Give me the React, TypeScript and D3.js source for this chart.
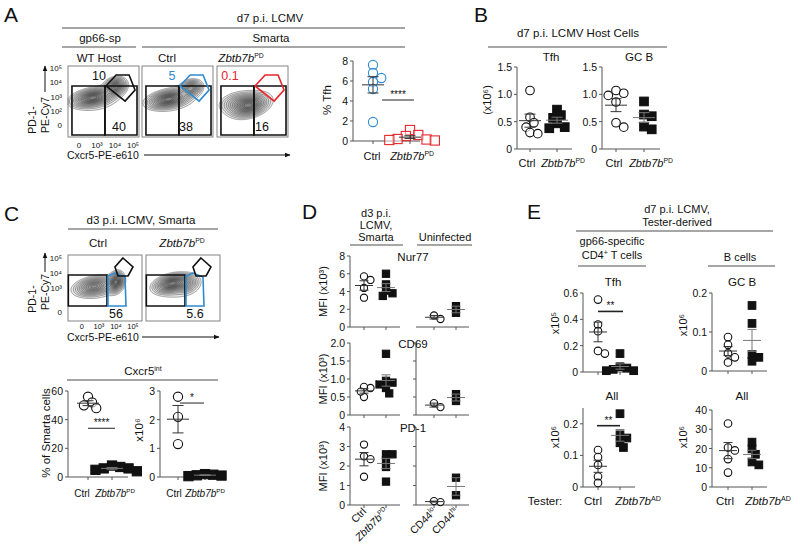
import React from 'react';
import * as d3 from 'd3';

const FONT = 'Liberation Sans, Arial, Helvetica, sans-serif';
const BLUE = '#2f8ad0';
const RED = '#e8262c';

// ---- A: % Tfh of Smarta
const aTfhCtrl = [7.6, 6.3, 6.8, 5.9, 5.2, 1.9];
const aTfhKO = [1.1, 0.6, 0.5, 0.2, 0.1, 0.15, 0.05];
// ---- B: host cells (x10^6)
const bTfhCtrl = [1.07, 0.58, 0.4, 0.48, 0.3, 0.28];
const bTfhKO = [0.72, 0.62, 0.57, 0.47, 0.4, 0.38];
const bGcbCtrl = [1.07, 1.02, 0.98, 0.86, 0.48, 0.4];
const bGcbKO = [0.87, 0.63, 0.6, 0.41, 0.36];
// ---- C: Cxcr5 int
const cPctCtrl = [56, 52, 48, 50];
const cPctKO = [8, 6, 5, 4, 6, 7];
const cNumCtrl = [2.8, 2.1, 1.15];
const cNumKO = [0.08, 0.05, 0.1, 0.03, 0.06];
// ---- D: MFI
const dNurCtrl = [5.7, 5.3, 4.4, 3.3];
const dNurKO = [6.0, 4.8, 4.1, 3.8, 3.5];
const dNurLo = [0.9, 1.3];
const dNurHi = [1.6, 2.35];
const dCd69Ctrl = [0.75, 0.78, 0.5, 0.65];
const dCd69KO = [1.7, 0.95, 0.9, 0.85, 0.75, 0.6];
const dCd69Lo = [0.22, 0.33];
const dCd69Hi = [0.39, 0.58];
const dPd1Ctrl = [3.1, 2.5, 2.35, 1.45];
const dPd1KO = [2.6, 2.6, 2.3, 1.95, 1.2];
const dPd1Lo = [0.15, 0.2];
const dPd1Hi = [1.4, 0.5];
// ---- E: tester-derived
const eTfhCtrl = [0.55, 0.36, 0.31, 0.14, 0.16];
const eTfhKO = [0.14, 0.04, 0.02, 0.01, 0.01, 0.03];
const eGcbCtrl = [0.087, 0.067, 0.045, 0.035, 0.022];
const eGcbKO = [0.168, 0.122, 0.042, 0.035, 0.025];
const eAllTCtrl = [0.117, 0.095, 0.07, 0.033, 0.013];
const eAllTKO = [0.232, 0.165, 0.155, 0.14, 0.125];
const eAllBCtrl = [33, 20.5, 19, 14.5, 7.5];
const eAllBKO = [23.3, 19.8, 17, 13, 11.5];

// flow populations (log-decade units): x, y, sx, sy, rho, weight
type Comp = [number, number, number, number, number, number];
const flowAWT: Comp[] = [[2.75, 2.95, 0.55, 0.3, 0.35, 1], [4.0, 3.7, 0.3, 0.3, 0.2, 0.9], [3.1, 2.8, 0.8, 0.55, 0.3, 0.08]];
const flowACtrl: Comp[] = [[2.85, 2.85, 0.55, 0.3, 0.35, 1], [4.1, 3.6, 0.3, 0.28, 0.2, 0.7], [3.2, 2.8, 0.8, 0.55, 0.3, 0.08]];
const flowAKO: Comp[] = [[3.2, 2.4, 0.5, 0.38, 0.35, 1], [2.6, 2.6, 0.5, 0.35, 0.2, 0.4], [3.1, 2.6, 0.8, 0.55, 0.3, 0.08]];
const flowCCtrl: Comp[] = [[2.7, 3.1, 0.55, 0.3, 0.3, 0.8], [4.0, 3.4, 0.22, 0.32, 0.2, 1.1], [3.1, 3.0, 0.8, 0.5, 0.2, 0.08]];
const flowCKO: Comp[] = [[2.7, 3.3, 0.5, 0.3, 0.35, 1], [3.6, 3.3, 0.35, 0.3, 0.2, 0.35], [3.1, 3.0, 0.8, 0.5, 0.2, 0.08]];

// gates (same units)
const gateALeft: [number, number][] = [[1.61, 0.38], [3.44, 0.38], [3.44, 3.76], [1.61, 3.76]];
const gateARight: [number, number][] = [[3.44, 0.38], [5.22, 0.38], [5.22, 3.76], [3.44, 3.76]];
const gateAPent: [number, number][] = [[3.5, 3.76], [4.06, 4.52], [4.78, 4.52], [5.11, 3.48], [4.56, 2.72]];
const gateCLeft: [number, number][] = [[1.2, 1.8], [3.47, 1.8], [3.47, 3.87], [1.2, 3.87]];
const gateCInt: [number, number][] = [[3.53, 3.8], [3.94, 4.0], [4.53, 3.73], [4.59, 1.8], [3.53, 1.8]];
const gateCPent: [number, number][] = [[4.41, 5.0], [5.0, 4.4], [4.71, 3.8], [4.12, 3.8], [3.94, 4.4]];

const flowXTicks = [2, 3, 4, 5];
const flowXLabels = ['0', '10³', '10⁴', '10⁵'];

const T = ({ x, y, children, anchor = 'middle', size = 11, rotate = 0, italic = false, fill = '#111', central = false }: any) => (
  <text x={x} y={y} textAnchor={anchor} fontSize={size} fontStyle={italic ? 'italic' : 'normal'} fill={fill}
    dominantBaseline={central ? 'central' : 'auto'}
    transform={rotate ? `rotate(${rotate},${x},${y})` : undefined}>{children}</text>
);

const Zb = ({ sup = 'PD', size = 11 }: any) => (
  <>
    <tspan fontStyle="italic">Zbtb7b</tspan>
    <tspan fontSize={size * 0.62} dy={-size * 0.38}>{sup}</tspan>
  </>
);

function FlowPlot({ left, top, w, h, xDom, yDom, comps, gates }: any) {
  const x = d3.scaleLinear().domain(xDom).range([left, left + w]);
  const y = d3.scaleLinear().domain(yDom).range([top + h, top]);
  const vals = new Array(w * h);
  for (let j = 0; j < h; j++) {
    for (let i = 0; i < w; i++) {
      const u = x.invert(left + i + 0.5);
      const v = y.invert(top + j + 0.5);
      let s = 0;
      for (const [cx, cy, sx, sy, rho, wt] of comps as Comp[]) {
        const dx = (u - cx) / sx, dy = (v - cy) / sy;
        s += wt * Math.exp(-0.5 / (1 - rho * rho) * (dx * dx - 2 * rho * dx * dy + dy * dy));
      }
      vals[j * w + i] = s;
    }
  }
  const mx = d3.max(vals) as number;
  const levels = [0.04, 0.07, 0.11, 0.16, 0.22, 0.29, 0.37, 0.45, 0.53, 0.61, 0.69, 0.77, 0.85, 0.92].map(k => k * mx);
  const cs = d3.contours().size([w, h]).thresholds(levels)(vals);
  const gp = d3.geoPath();
  const line = d3.line();
  return (
    <g>
      <g transform={`translate(${left},${top})`}>
        {cs.map((c, k) => (
          <path key={k} d={gp(c as any) || ''} fill="#000" fillOpacity={k === 0 ? 0.08 : 0.045}
            stroke="#222" strokeWidth={0.5} strokeOpacity={0.8} />
        ))}
      </g>
      <rect x={left} y={top} width={w} height={h} fill="none" stroke="#777" strokeWidth={0.9} />
      {gates.map((g: any, k: number) => (
        <path key={k} d={line(g.pts.map((p: number[]) => [x(p[0]), y(p[1])]) as any) + 'Z'} fill="none" stroke={g.color} strokeWidth={1.6} strokeLinejoin="miter" />
      ))}
    </g>
  );
}

function dodge(vals: number[], y: (v: number) => number, r: number) {
  const order = d3.range(vals.length).sort((a, b) => vals[b] - vals[a]);
  const placed: { x: number; y: number }[] = [];
  const offs = new Array(vals.length).fill(0);
  for (const i of order) {
    const py = y(vals[i]);
    for (let k = 0; k < 30; k++) {
      const cand = k === 0 ? 0 : (k % 2 ? 1 : -1) * Math.ceil(k / 2) * r * 0.9;
      if (placed.every(p => Math.hypot(p.x - cand, p.y - py) >= r * 1.5)) {
        offs[i] = cand;
        placed.push({ x: cand, y: py });
        break;
      }
    }
  }
  return offs;
}

type Grp = { vals: number[]; shape: 'o' | 's'; color: string };

function Scatter({ ax, axEnd, top, bottom, domain, ticks, fmt, cats, groups, r, tickLabels = true, yAxis = true, barW = 11, sig }: any) {
  const y = d3.scaleLinear().domain(domain).range([bottom, top]);
  const xc = d3.scalePoint<number>().domain(d3.range(groups.length)).range(cats);
  const f = fmt || ((d: number) => (d === 0 ? '0' : d3.format('~g')(d)));
  return (
    <g>
      {yAxis && <line x1={ax} x2={ax} y1={bottom} y2={top} stroke="#555" strokeWidth={1} />}
      {yAxis && ticks.map((t: number) => (
        <g key={t}>
          <line x1={ax - 3} x2={ax} y1={y(t)} y2={y(t)} stroke="#555" />
          {tickLabels && <T x={ax - 5} y={y(t)} anchor="end" size={10.5} central>{f(t)}</T>}
        </g>
      ))}
      <line x1={ax} x2={axEnd} y1={bottom} y2={bottom} stroke="#555" strokeWidth={1} />
      {groups.map((_: Grp, i: number) => (
        <line key={i} x1={xc(i)} x2={xc(i)} y1={bottom} y2={bottom + 3} stroke="#555" />
      ))}
      {groups.map((g: Grp, i: number) => {
        const offs = dodge(g.vals, y, r);
        const cx = xc(i) as number;
        const m = d3.mean(g.vals) as number;
        const sem = (d3.deviation(g.vals) || 0) / Math.sqrt(g.vals.length);
        return (
          <g key={i}>
            {g.vals.map((v, k) => g.shape === 'o'
              ? <circle key={k} cx={cx + offs[k]} cy={y(v)} r={r} fill="white" fillOpacity={0.6} stroke={g.color} strokeWidth={1.1} />
              : <rect key={k} x={cx + offs[k] - r} y={y(v) - r} width={2 * r} height={2 * r}
                fill={g.color === RED ? 'white' : g.color} fillOpacity={g.color === RED ? 0.5 : 1} stroke={g.color} strokeWidth={1.1} />)}
            <g stroke={g.color === '#111' && g.shape === 's' ? '#777' : '#333'} strokeWidth={1}>
              <line x1={cx - barW} x2={cx + barW} y1={y(m)} y2={y(m)} />
              <line x1={cx} x2={cx} y1={y(m - sem)} y2={y(m + sem)} />
              <line x1={cx - barW / 2} x2={cx + barW / 2} y1={y(m - sem)} y2={y(m - sem)} />
              <line x1={cx - barW / 2} x2={cx + barW / 2} y1={y(m + sem)} y2={y(m + sem)} />
            </g>
          </g>
        );
      })}
      {sig && (
        <g>
          <line x1={sig.x1} x2={sig.x2} y1={y(sig.v)} y2={y(sig.v)} stroke="#222" strokeWidth={sig.bold ? 1.6 : 1} />
          <T x={(sig.x1 + sig.x2) / 2} y={y(sig.v) - 2} size={10}>{sig.text}</T>
        </g>
      )}
    </g>
  );
}

const fix1 = (d: number) => (d === 0 ? '0' : d.toFixed(1));

const Rule = ({ x1, x2, y }: any) => <line x1={x1} x2={x2} y1={y} y2={y} stroke="#888" strokeWidth={1.3} />;

export default function App() {
  const ctrlO = (vals: number[]): Grp => ({ vals, shape: 'o', color: '#111' });
  const koS = (vals: number[]): Grp => ({ vals, shape: 's', color: '#111' });
  const aX: [number, number] = [1.39, 5.33];
  const aY: [number, number] = [0.24, 5.14];
  const cX: [number, number] = [1.18, 5.53];
  const cY: [number, number] = [0.8, 5.2];
  const axA = d3.scaleLinear().domain(aX).range([68, 139]);
  const ayA = d3.scaleLinear().domain(aY).range([137, 66]);
  const axC = d3.scaleLinear().domain(cX).range([68, 142]);
  const ayC = d3.scaleLinear().domain(cY).range([321, 255]);

  return (
    <div style={{ position: 'absolute', left: 0, top: 0 }}>
      <svg width={800} height={553} style={{ display: 'block', fontFamily: FONT }} fontFamily={FONT}>
        <defs>
          <marker id="arr" viewBox="0 0 10 10" refX={9} refY={5} markerWidth={6} markerHeight={6} orient="auto">
            <path d="M0,1 L10,5 L0,9 Z" fill="#111" />
          </marker>
        </defs>
        <rect width={800} height={553} fill="white" />

        {/* ================= A ================= */}
        <T x={4} y={22} anchor="start" size={21}>A</T>
        <T x={270} y={22} size={11.5}>d7 p.i. LCMV</T>
        <Rule x1={62} x2={405} y={28} />
        <T x={100} y={42} size={11.5}>gp66-sp</T>
        <Rule x1={62} x2={136} y={47} />
        <T x={271} y={42} size={11.5}>Smarta</T>
        <Rule x1={142} x2={405} y={47} />
        <T x={99} y={62} size={11.5}>WT Host</T>
        <T x={167} y={62} size={11.5}>Ctrl</T>
        <T x={241} y={62} size={11.5}><Zb /></T>

        {[68, 142, 217].map((left, k) => (
          <FlowPlot key={k} left={left} top={66} w={71} h={71} xDom={aX} yDom={aY}
            comps={[flowAWT, flowACtrl, flowAKO][k]}
            gates={[
              { pts: gateALeft, color: '#111' },
              { pts: gateARight, color: '#111' },
              { pts: gateAPent, color: ['#111', BLUE, RED][k] },
            ]} />
        ))}
        <T x={99} y={80} size={12.5}>10</T>
        <T x={119} y={131} size={12.5}>40</T>
        <T x={172} y={80} size={12.5} fill={BLUE}>5</T>
        <T x={186} y={131} size={12.5}>38</T>
        <T x={230} y={80} size={12.5} fill={RED}>0.1</T>
        <T x={262} y={131} size={12.5}>16</T>
        {[5, 4, 3, 2].map((u, k) => (
          <T key={u} x={62} y={ayA(u)} anchor="end" size={8} central>{['10⁵', '10⁴', '10³', '10²'][k]}</T>
        ))}
        <T x={62} y={ayA(1)} anchor="end" size={8} central>0</T>
        {flowXTicks.map((u, k) => (
          <T key={u} x={axA(u)} y={148} size={8}>{flowXLabels[k]}</T>
        ))}
        <T x={67} y={159} anchor="start" size={10.5}>Cxcr5-PE-e610</T>
        <line x1={144} x2={290} y1={155} y2={155} stroke="#111" strokeWidth={1} markerEnd="url(#arr)" />
        <T x={36} y={120} size={10.5} rotate={-90}>PD-1-</T>
        <T x={49} y={115} size={10.5} rotate={-90}>PE-Cy7</T>
        <line x1={45} x2={45} y1={92} y2={66} stroke="#111" strokeWidth={1} markerEnd="url(#arr)" />

        <Scatter ax={353} axEnd={420} top={61} bottom={141} domain={[0, 8]} ticks={[0, 2, 4, 6, 8]} cats={[373, 410]}
          r={4.6} barW={11}
          groups={[{ vals: aTfhCtrl, shape: 'o', color: BLUE }, { vals: aTfhKO, shape: 's', color: RED }]}
          sig={{ x1: 382, x2: 414, v: 4.1, text: '****' }} />
        <T x={331} y={100} size={11.5} rotate={-90}>% Tfh</T>
        <T x={372} y={160} size={11}>Ctrl</T>
        <T x={412} y={160} size={11}><Zb /></T>

        {/* ================= B ================= */}
        <T x={474} y={22} anchor="start" size={21}>B</T>
        <T x={578} y={37} size={11.5}>d7 p.i. LCMV Host Cells</T>
        <Rule x1={488} x2={667} y={47} />
        <T x={551} y={61} size={11.5}>Tfh</T>
        <T x={639} y={61} size={11.5}>GC B</T>
        <T x={491} y={100} size={11} rotate={-90}>(x10⁶)</T>
        <Scatter ax={517} axEnd={572} top={67} bottom={149} domain={[0, 1.5]} ticks={[0, 0.5, 1, 1.5]} fmt={fix1}
          cats={[530, 557]} r={4.3} groups={[ctrlO(bTfhCtrl), koS(bTfhKO)]} />
        <Scatter ax={602} axEnd={660} top={67} bottom={149} domain={[0, 1.5]} ticks={[0, 0.5, 1, 1.5]} fmt={fix1}
          cats={[616, 644]} r={4.3} groups={[ctrlO(bGcbCtrl), koS(bGcbKO)]} />
        <T x={527} y={167} size={11}>Ctrl</T>
        <T x={563} y={167} size={11}><Zb /></T>
        <T x={614} y={167} size={11}>Ctrl</T>
        <T x={651} y={167} size={11}><Zb /></T>

        {/* ================= C ================= */}
        <T x={4} y={221} anchor="start" size={21}>C</T>
        <T x={141} y={224} size={11.5}>d3 p.i. LCMV,  Smarta</T>
        <Rule x1={68} x2={218} y={229} />
        <T x={98} y={247} size={11.5}>Ctrl</T>
        <T x={182} y={247} size={11.5}><Zb /></T>
        {[68, 146].map((left, k) => (
          <FlowPlot key={k} left={left} top={255} w={74} h={66} xDom={cX} yDom={cY}
            comps={[flowCCtrl, flowCKO][k]}
            gates={[
              { pts: gateCLeft, color: '#111' },
              { pts: gateCInt, color: BLUE },
              { pts: gateCPent, color: '#111' },
            ]} />
        ))}
        <T x={116} y={318} size={12.5}>56</T>
        <T x={195} y={318} size={12.5}>5.6</T>
        {[5, 4, 3].map((u, k) => (
          <T key={u} x={62} y={ayC(u)} anchor="end" size={8} central>{['10⁵', '10⁴', '10³'][k]}</T>
        ))}
        <T x={62} y={ayC(1.35)} anchor="end" size={8} central>0</T>
        {flowXTicks.map((u, k) => (
          <T key={u} x={axC(u)} y={329} size={7.5}>{flowXLabels[k]}</T>
        ))}
        <T x={67} y={341} anchor="start" size={10.5}>Cxcr5-PE-e610</T>
        <line x1={142} x2={219} y1={337} y2={337} stroke="#111" strokeWidth={1} markerEnd="url(#arr)" />
        <T x={36} y={299} size={10.5} rotate={-90}>PD-1-</T>
        <T x={49} y={292} size={10.5} rotate={-90}>PE-Cy7</T>
        <line x1={45} x2={45} y1={272} y2={253} stroke="#111" strokeWidth={1} markerEnd="url(#arr)" />

        <T x={143} y={375} size={11.5}>Cxcr5<tspan fontSize={7} dy={-4}>int</tspan></T>
        <Rule x1={67} x2={218} y={380} />
        <Scatter ax={68} axEnd={128} top={391} bottom={477} domain={[0, 60]} ticks={[0, 20, 40, 60]}
          cats={[88, 112]} r={4.6} groups={[ctrlO(cPctCtrl), koS(cPctKO)]}
          sig={{ x1: 88, x2: 115, v: 34, text: '****' }} />
        <T x={50} y={433} size={11.5} rotate={-90}>%  of Smarta cells</T>
        <Scatter ax={160} axEnd={220} top={391} bottom={477} domain={[0, 3]} ticks={[0, 1, 2, 3]}
          cats={[178, 205]} r={4.6} groups={[ctrlO(cNumCtrl), koS(cNumKO)]}
          sig={{ x1: 180, x2: 204, v: 2.58, text: '*' }} />
        <T x={143} y={430} size={11.5} rotate={-90}>x10⁶</T>
        <T x={82} y={497} size={10}>Ctrl</T>
        <T x={115} y={497} size={10}><Zb size={10} /></T>
        <T x={174} y={497} size={10}>Ctrl</T>
        <T x={205} y={497} size={10}><Zb size={10} /></T>

        {/* ================= D ================= */}
        <T x={302} y={219} anchor="start" size={21}>D</T>
        <T x={376} y={217} size={11}>d3 p.i.</T>
        <T x={376} y={229} size={11}>LCMV,</T>
        <T x={376} y={241} size={11}>Smarta</T>
        <Rule x1={350} x2={403} y={245} />
        <T x={445} y={241} size={11}>Uninfected</T>
        <Rule x1={417} x2={472} y={245} />

        {[
          { top: 256, bottom: 327, domain: [0, 8], ticks: [0, 2, 4, 6, 8], fmt: undefined, data: [dNurCtrl, dNurKO, dNurLo, dNurHi], name: 'Nur77', yAx2: false },
          { top: 343, bottom: 415, domain: [0, 2], ticks: [0, 0.5, 1, 1.5, 2], fmt: fix1, data: [dCd69Ctrl, dCd69KO, dCd69Lo, dCd69Hi], name: 'CD69', yAx2: true },
          { top: 427, bottom: 505, domain: [0, 4], ticks: [0, 1, 2, 3, 4], fmt: undefined, data: [dPd1Ctrl, dPd1KO, dPd1Lo, dPd1Hi], name: 'PD-1', yAx2: true },
        ].map((p, k) => (
          <g key={k}>
            <Scatter ax={350} axEnd={400} top={p.top} bottom={p.bottom} domain={p.domain} ticks={p.ticks} fmt={p.fmt}
              cats={[364, 386]} r={3.6} barW={9} groups={[ctrlO(p.data[0]), koS(p.data[1])]} />
            <Scatter ax={416} axEnd={469} top={p.top} bottom={p.bottom} domain={p.domain} ticks={p.ticks}
              cats={[434, 456]} r={3.6} barW={9} yAxis={p.yAx2} tickLabels={false}
              groups={[ctrlO(p.data[2]), koS(p.data[3])]} />
            <T x={413} y={p.top + 5} size={11.5}>{p.name}</T>
            <T x={323} y={(p.top + p.bottom) / 2} size={11} rotate={-90} central>MFI (x10³)</T>
          </g>
        ))}
        <T x={367} y={512} anchor="end" size={10.5} rotate={-45}>Ctrl</T>
        <T x={389} y={512} anchor="end" size={10.5} rotate={-45}><Zb size={10.5} /></T>
        <T x={437} y={512} anchor="end" size={10.5} rotate={-45}>CD44<tspan fontSize={7} dy={-4}>lo</tspan></T>
        <T x={459} y={512} anchor="end" size={10.5} rotate={-45}>CD44<tspan fontSize={7} dy={-4}>hi</tspan></T>

        {/* ================= E ================= */}
        <T x={527} y={219} anchor="start" size={21}>E</T>
        <T x={677} y={213} size={11}>d7 p.i. LCMV,</T>
        <T x={677} y={226} size={11}>Tester-derived</T>
        <Rule x1={576} x2={773} y={231} />
        <T x={612} y={245} size={11}>gp66-specific</T>
        <T x={612} y={259} size={11}>CD4<tspan fontSize={7} dy={-4}>+</tspan><tspan dy={4}> T cells</tspan></T>
        <Rule x1={578} x2={646} y={266} />
        <T x={740} y={261} size={11}>B cells</T>
        <Rule x1={708} x2={775} y={266} />
        <T x={613} y={286} size={11.5}>Tfh</T>
        <T x={742} y={286} size={11.5}>GC B</T>
        <T x={612} y={400} size={11.5}>All</T>
        <T x={742} y={400} size={11.5}>All</T>

        <Scatter ax={583} axEnd={635} top={293} bottom={372} domain={[0, 0.6]} ticks={[0, 0.2, 0.4, 0.6]} fmt={fix1}
          cats={[598, 620]} r={3.8} barW={9} groups={[ctrlO(eTfhCtrl), koS(eTfhKO)]}
          sig={{ x1: 598, x2: 623, v: 0.46, text: '**', bold: true }} />
        <T x={555} y={323} size={11} rotate={-90} central>x10⁵</T>
        <Scatter ax={712} axEnd={767} top={293} bottom={371} domain={[0, 0.2]} ticks={[0, 0.1, 0.2]} fmt={fix1}
          cats={[728, 752]} r={3.8} barW={9} groups={[ctrlO(eGcbCtrl), koS(eGcbKO)]} />
        <T x={683} y={325} size={11} rotate={-90} central>x10⁶</T>
        <Scatter ax={583} axEnd={635} top={408} bottom={487} domain={[0, 0.25]} ticks={[0, 0.1, 0.2]} fmt={fix1}
          cats={[598, 620]} r={3.8} barW={9} groups={[ctrlO(eAllTCtrl), koS(eAllTKO)]}
          sig={{ x1: 597, x2: 620, v: 0.194, text: '**', bold: true }} />
        <T x={555} y={437} size={11} rotate={-90} central>x10⁶</T>
        <Scatter ax={712} axEnd={767} top={410} bottom={487} domain={[0, 40]} ticks={[0, 10, 20, 30, 40]}
          cats={[728, 752]} r={3.8} barW={9} groups={[ctrlO(eAllBCtrl), koS(eAllBKO)]} />
        <T x={683} y={437} size={11} rotate={-90} central>x10⁶</T>

        <T x={545} y={505} size={11.5}>Tester:</T>
        <T x={593} y={505} size={11.5}>Ctrl</T>
        <T x={638} y={505} size={11.5}><Zb sup="AD" size={11.5} /></T>
        <T x={725} y={505} size={11.5}>Ctrl</T>
        <T x={768} y={505} size={11.5}><Zb sup="AD" size={11.5} /></T>
      </svg>
    </div>
  );
}
